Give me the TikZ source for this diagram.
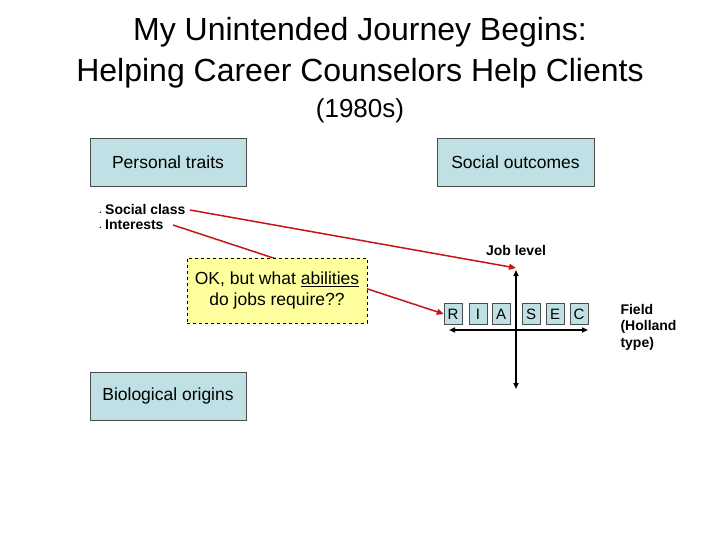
\documentclass[tikz,border=0pt]{standalone}
\usepackage{fontspec}
\setmainfont{Liberation Sans}
\usetikzlibrary{arrows.meta}
\begin{document}
\begin{tikzpicture}[x=1pt,y=-1pt,
  bluebox/.style={draw=black!70,fill={rgb,255:red,191;green,224;blue,228},inner sep=0,font=\fontsize{17.5}{20}\selectfont},
  letter/.style={draw=black!70,fill={rgb,255:red,191;green,224;blue,228},minimum width=18,minimum height=21,inner sep=0,font=\fontsize{15}{16}\selectfont},
  redline/.style={draw={rgb,255:red,200;green,20;blue,20},line width=1.5pt,-{Triangle[length=7pt,width=6pt]}},
  axis/.style={line width=1.6pt,{Triangle[length=6pt,width=5pt]}-{Triangle[length=6pt,width=5pt]}},
  small/.style={font=\bfseries\fontsize{14}{16.5}\selectfont}]
\useasboundingbox (0,0) rectangle (720,540);
\node (t1) at (360,32) {\fontsize{32}{36}\selectfont My Unintended Journey Begins:};
\node (t2) at (360,73) {\fontsize{32}{36}\selectfont Helping Career Counselors Help Clients};
\node (t3) at (360,111) {\fontsize{26}{30}\selectfont (1980s)};
\node[bluebox,minimum width=156,minimum height=48] (pt) at (168,162) {Personal traits};
\node[bluebox,minimum width=157,minimum height=48] (so) at (515.5,162) {Social outcomes};
\node[bluebox,minimum width=156,minimum height=48] (bo) at (168,396) {Biological origins};
\node[small,anchor=west] (sc) at (96,209) {{\tiny\textbullet} Social class};
\node[small,anchor=west] (in) at (96,225) {{\tiny\textbullet} Interests};
\node[small] (jl) at (516,250) {Job level};
\node[small,align=left,anchor=west] (fd) at (617,327) {Field\\(Holland\\ type)};
\coordinate (vt) at (516,270); \coordinate (vb) at (516,389);
\coordinate (hl) at (449,330); \coordinate (hr) at (588,330);
\draw[axis] (vt) -- (vb);
\draw[axis] (hl) -- (hr);
\node[letter] (R) at (453,314) {R};
\node[letter] (I) at (478,314) {I};
\node[letter] (A) at (501,314) {A};
\node[letter] (S) at (531,314) {S};
\node[letter] (E) at (555,314) {E};
\node[letter] (C) at (579,314) {C};
\coordinate (sce) at (190,210);
\coordinate (ine) at (173,225);
\draw[redline] (sce) -- (vt |- 0,268);
\draw[redline] (ine) -- (R.west);
\node[draw,dashed,fill={rgb,255:red,255;green,255;blue,160},minimum width=180,minimum height=65,inner sep=0,align=center,font=\fontsize{17.5}{21}\selectfont] (ok) at (277,290.5) {OK, but what \underline{abilities}\\do jobs require??};
\end{tikzpicture}
\end{document}
